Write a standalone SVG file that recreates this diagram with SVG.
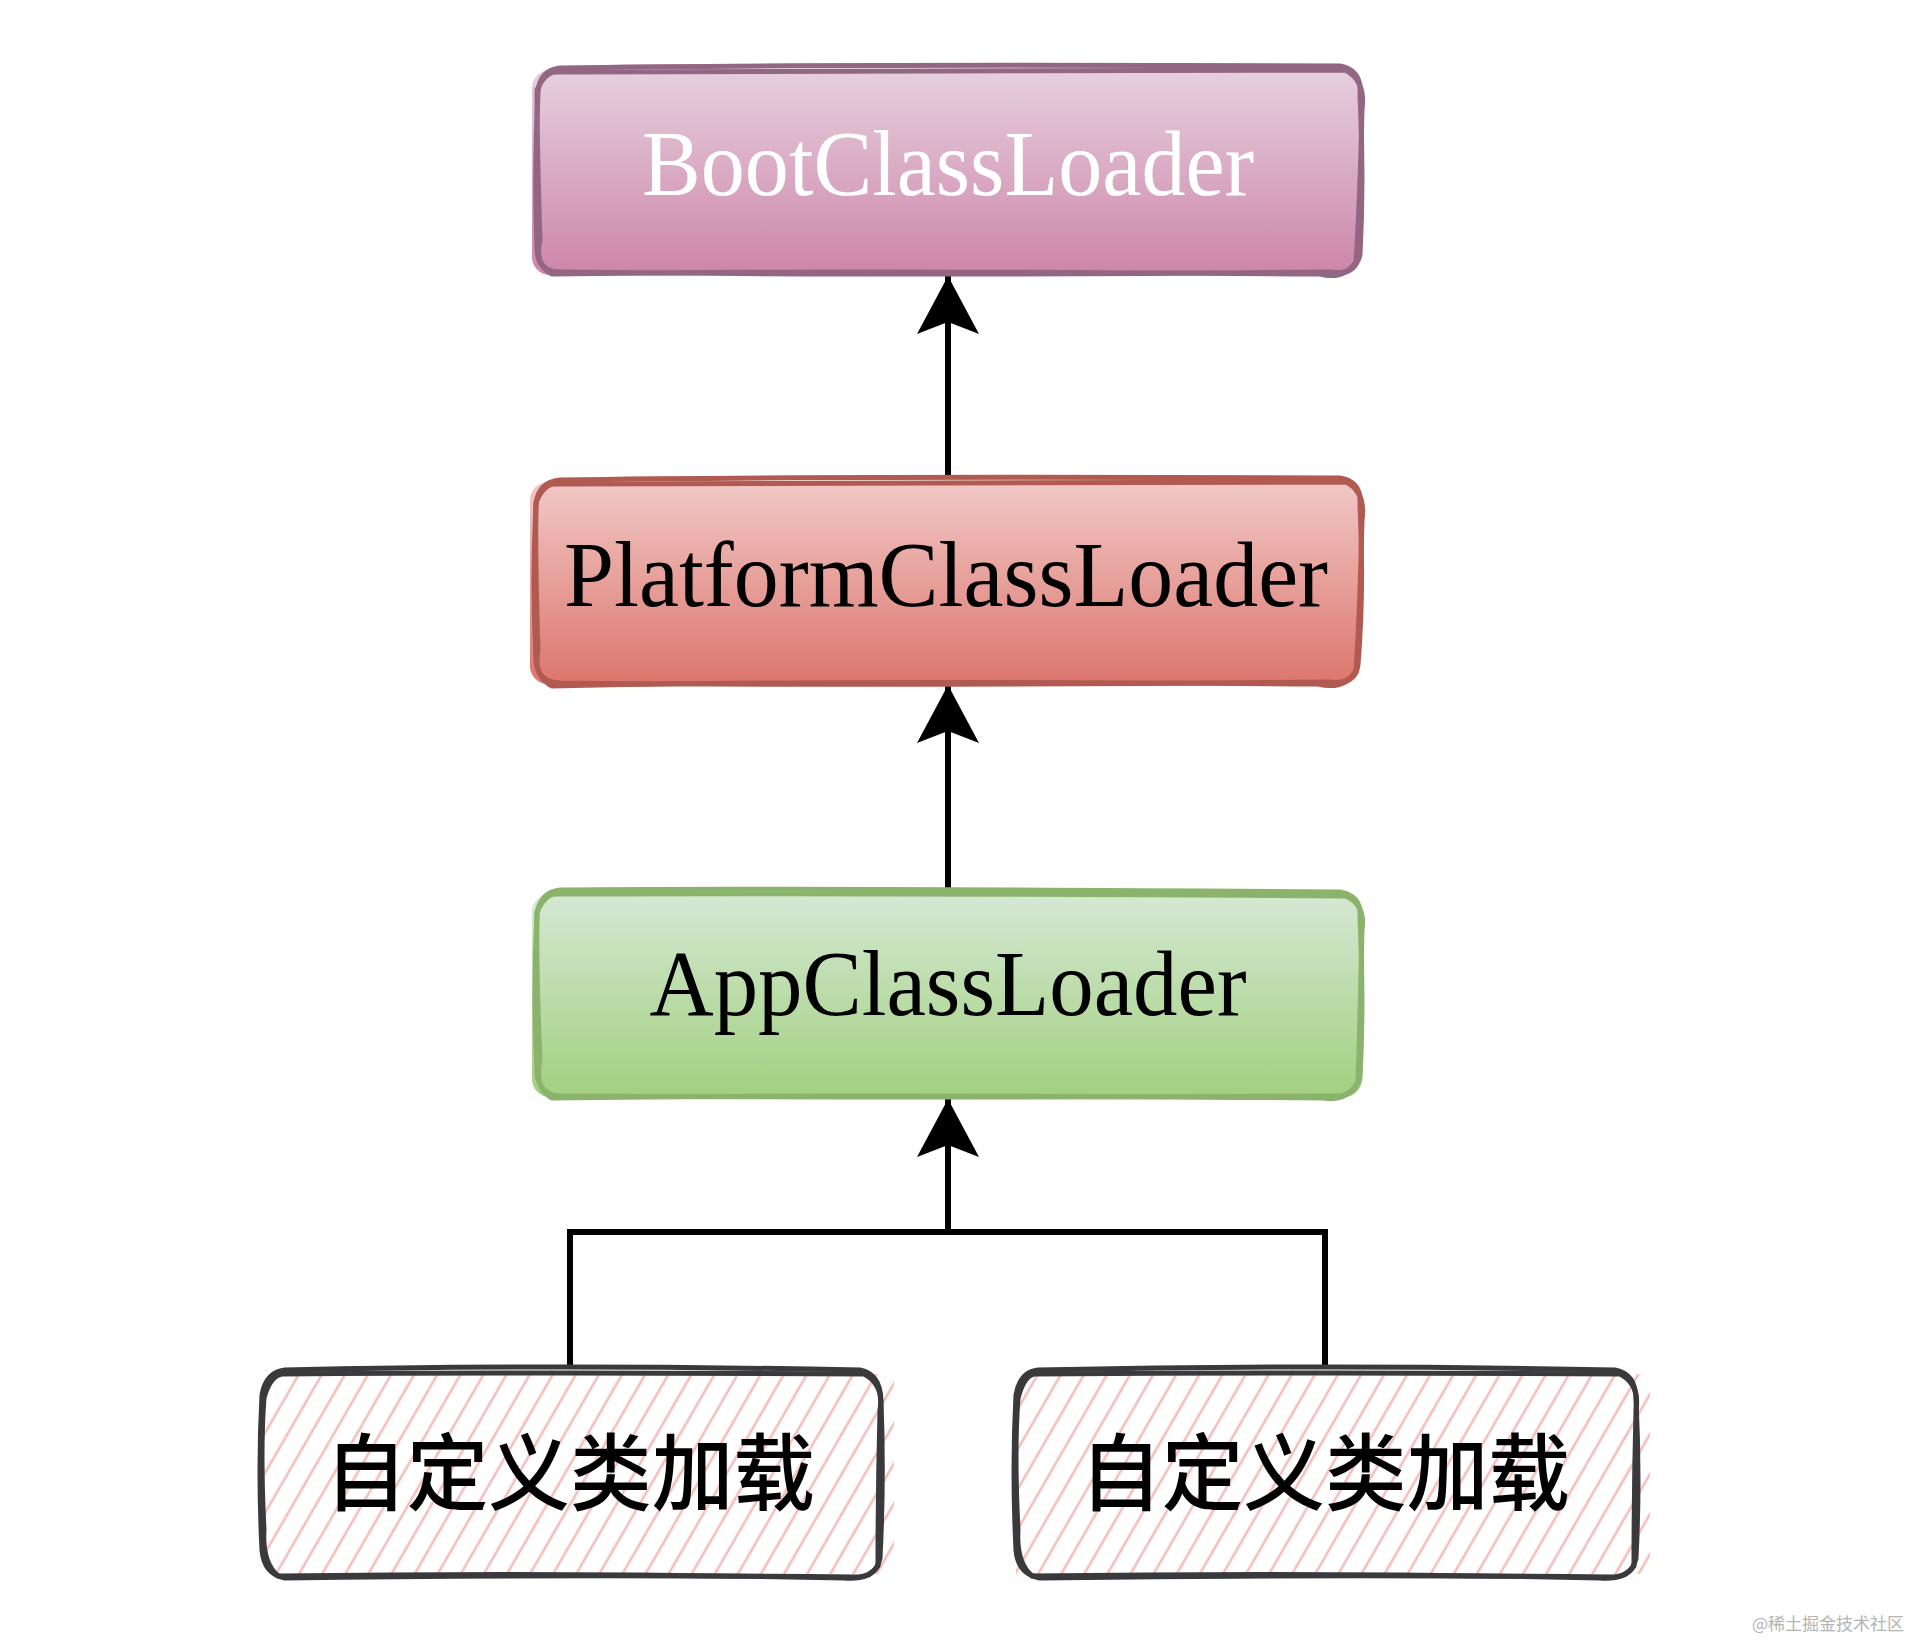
<svg xmlns="http://www.w3.org/2000/svg" width="1911" height="1642" viewBox="0 0 1911 1642">
<defs>
<linearGradient id="gBoot" x1="0" y1="0" x2="0" y2="1"><stop offset="0" stop-color="#e6d0de"/><stop offset="1" stop-color="#cd85a9"/></linearGradient>
<linearGradient id="gPlat" x1="0" y1="0" x2="0" y2="1"><stop offset="0" stop-color="#f1c8c6"/><stop offset="1" stop-color="#dc766d"/></linearGradient>
<linearGradient id="gApp" x1="0" y1="0" x2="0" y2="1"><stop offset="0" stop-color="#d5e8d4"/><stop offset="1" stop-color="#a2d07f"/></linearGradient>
<pattern id="hatch" width="20" height="40" patternUnits="userSpaceOnUse" patternTransform="rotate(30)">
<line x1="6" y1="0" x2="6" y2="40" stroke="#f3bdbc" stroke-width="2.6"/>
</pattern>
<marker id="arr" markerUnits="userSpaceOnUse" markerWidth="70" markerHeight="70" refX="60" refY="31" orient="auto" viewBox="0 0 70 62">
<path d="M60 31 L2 0 L14 31 L2 62 Z" fill="#000"/>
</marker>
<style>
.lbl{font-family:"Liberation Serif","DejaVu Serif",serif;font-size:94px;}
.cjk{font-family:"Noto Sans CJK SC","Noto Sans",sans-serif;font-size:84px;font-weight:500;fill:#000;}
.conn{fill:none;stroke:#000;stroke-width:6;}
.ol{fill:none;stroke-width:5;stroke-linejoin:round;}
</style>
</defs>

<g id="connectors">
<path class="conn" d="M948 478 L948 276" marker-end="url(#arr)"/>
<path class="conn" d="M948 890 L948 685" marker-end="url(#arr)"/>
<path class="conn" d="M948 1232 L948 1099" marker-end="url(#arr)"/>
<path class="conn" d="M570 1369 L570 1232 L1325 1232 L1325 1369"/>
</g>

<g id="boot">
<rect x="532" y="70" width="828" height="205" rx="18" fill="url(#gBoot)"/>
<path class="ol" stroke="#936683" d="M560 68 Q800 64 1340 66 Q1362 70 1360 95 Q1364 180 1360 255 Q1354 276 1332 272 Q900 276 560 272 Q538 272 537 250 Q534 170 538 92 Q540 70 560 68 Z"/>
<path class="ol" stroke="#936683" stroke-width="3.5" d="M556 72 Q900 70 1345 70 Q1366 80 1362 110 Q1360 200 1356 262 Q1344 280 1320 274 Q800 270 552 274 Q534 264 540 240 Q537 150 537 90 Q545 72 556 72 Z"/>
<text class="lbl" x="948" y="195" text-anchor="middle" fill="#ffffff" textLength="612" lengthAdjust="spacingAndGlyphs">BootClassLoader</text>
</g>

<g id="platform">
<rect x="530" y="482" width="830" height="202" rx="18" fill="url(#gPlat)"/>
<path class="ol" stroke="#b05a52" d="M560 480 Q800 476 1340 478 Q1362 482 1360 505 Q1364 590 1358 665 Q1352 686 1330 682 Q900 686 560 683 Q537 682 536 660 Q532 580 536 505 Q538 482 560 480 Z"/>
<path class="ol" stroke="#b05a52" stroke-width="3.5" d="M555 484 Q900 482 1346 482 Q1366 492 1362 520 Q1360 610 1356 672 Q1344 690 1318 684 Q800 680 552 686 Q533 676 538 650 Q535 560 536 502 Q544 484 555 484 Z"/>
<text class="lbl" x="946" y="606" text-anchor="middle" fill="#000000" textLength="764" lengthAdjust="spacingAndGlyphs">PlatformClassLoader</text>
</g>

<g id="app">
<rect x="532" y="894" width="830" height="203" rx="18" fill="url(#gApp)"/>
<path class="ol" stroke="#8bb36c" d="M560 890 Q800 888 1340 892 Q1362 896 1360 918 Q1364 1000 1360 1078 Q1354 1098 1332 1096 Q900 1098 560 1096 Q538 1094 537 1072 Q533 990 537 915 Q540 892 560 890 Z"/>
<path class="ol" stroke="#8bb36c" stroke-width="3.5" d="M556 894 Q900 893 1345 896 Q1366 904 1362 930 Q1360 1020 1358 1082 Q1346 1102 1324 1098 Q800 1094 552 1098 Q534 1088 540 1060 Q536 970 537 912 Q545 894 556 894 Z"/>
<text class="lbl" x="948" y="1015" text-anchor="middle" fill="#000000" textLength="597" lengthAdjust="spacingAndGlyphs">AppClassLoader</text>
</g>

<g id="custom1">
<rect x="262" y="1374" width="632" height="200" fill="url(#hatch)"/>
<path class="ol" stroke="#3a3a3c" stroke-width="6" d="M285 1370 Q560 1364 860 1370 Q880 1374 881 1400 Q884 1480 880 1558 Q876 1578 855 1577 Q560 1574 285 1578 Q264 1574 262 1550 Q258 1470 262 1395 Q266 1372 285 1370 Z"/>
<path class="ol" stroke="#3a3a3c" stroke-width="3.5" d="M282 1374 Q560 1372 864 1374 Q884 1384 880 1410 Q878 1490 878 1566 Q868 1580 845 1578 Q560 1572 278 1576 Q262 1562 264 1530 Q260 1450 264 1398 Q270 1376 282 1374 Z"/>
<text class="cjk" x="570" y="1504" text-anchor="middle" textLength="490" lengthAdjust="spacingAndGlyphs">自定义类加载</text>
</g>

<g id="custom2">
<rect x="1016" y="1374" width="634" height="200" fill="url(#hatch)"/>
<path class="ol" stroke="#3a3a3c" stroke-width="6" d="M1038 1370 Q1330 1364 1615 1370 Q1636 1374 1636 1400 Q1640 1480 1636 1558 Q1632 1578 1610 1577 Q1320 1574 1040 1578 Q1018 1574 1016 1550 Q1012 1470 1016 1395 Q1020 1372 1038 1370 Z"/>
<path class="ol" stroke="#3a3a3c" stroke-width="3.5" d="M1034 1374 Q1330 1372 1620 1374 Q1640 1384 1636 1410 Q1634 1490 1634 1566 Q1624 1580 1600 1578 Q1320 1572 1032 1576 Q1016 1562 1018 1530 Q1014 1450 1018 1398 Q1024 1376 1034 1374 Z"/>
<text class="cjk" x="1325" y="1504" text-anchor="middle" textLength="490" lengthAdjust="spacingAndGlyphs">自定义类加载</text>
</g>

<text x="1904" y="1630" text-anchor="end" font-family="'Noto Sans CJK SC','Liberation Serif',serif" font-size="17" fill="#b4b4b4">@稀土掘金技术社区</text>
</svg>
